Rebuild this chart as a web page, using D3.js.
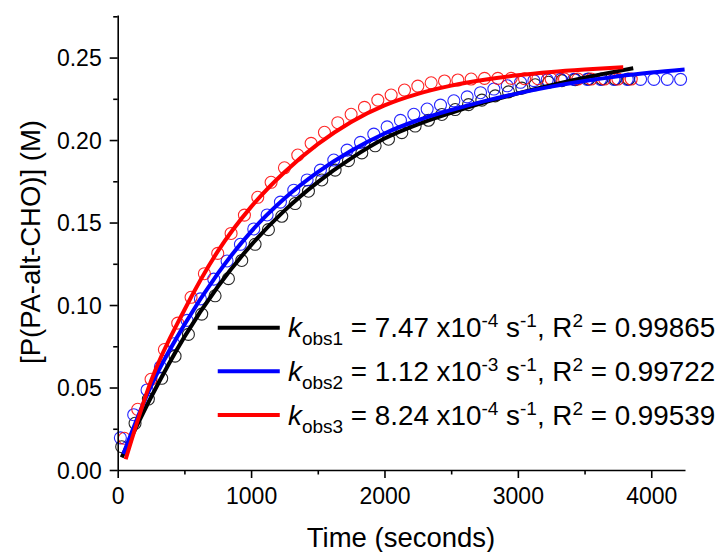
<!DOCTYPE html>
<html>
<head>
<meta charset="utf-8">
<script src="https://cdn.jsdelivr.net/npm/d3@7"></script>
<style>
  html, body { margin: 0; padding: 0; background: #fff; }
  svg { display: block; }
  text { font-family: "Liberation Sans", Arial, sans-serif; fill: #000; }
</style>
</head>
<body>
<svg id="chart" width="723" height="552"></svg>
<script>
// ---------- data ----------
const blackTimes = [30,130,230,330,430,530,630,730,830,930,1030,1130,1230,1330,1430,1530,1630,1730,1830,1930,2030,2130,2230,2330,2430,2530,2630,2730,2830,2930,3030,3130,3230,3330,3430,3530,3630,3730,3830];
const blackValues = [0.0141,0.0283,0.0430,0.0556,0.0690,0.0822,0.0945,0.1056,0.1160,0.1270,0.1368,0.1457,0.1538,0.1615,0.1690,0.1758,0.1818,0.1875,0.1922,0.1965,0.2005,0.2045,0.2085,0.2120,0.2155,0.2185,0.2215,0.2242,0.2268,0.2292,0.2315,0.2335,0.2350,0.2360,0.2366,0.2370,0.2370,0.2370,0.2370];

const blueTimes = [20,120,220,320,420,520,620,720,820,920,1020,1120,1220,1320,1420,1520,1620,1720,1820,1920,2020,2120,2220,2320,2420,2520,2620,2720,2820,2920,3020,3120,3220,3320,3420,3520,3620,3720,3820,3920,4020,4120,4220];
const blueValues = [0.0195,0.0335,0.0485,0.0625,0.0765,0.0907,0.1037,0.1157,0.1267,0.1368,0.1461,0.1546,0.1624,0.1696,0.1758,0.1818,0.1879,0.1939,0.1986,0.2036,0.2080,0.2119,0.2156,0.2188,0.2212,0.2238,0.2262,0.2287,0.2309,0.2329,0.2350,0.2360,0.2365,0.2368,0.2368,0.2368,0.2368,0.2368,0.2368,0.2368,0.2368,0.2368,0.2368];

const redTimes = [50,150,250,350,450,550,650,750,850,950,1050,1150,1250,1350,1450,1550,1650,1750,1850,1950,2050,2150,2250,2350,2450,2550,2650,2750,2850,2950,3050,3150,3250,3350,3450,3550,3650,3750,3850];
const redValues = [0.0192,0.0368,0.0550,0.0730,0.0890,0.1047,0.1190,0.1313,0.1434,0.1545,0.1653,0.1744,0.1832,0.1909,0.1980,0.2047,0.2105,0.2156,0.2198,0.2242,0.2273,0.2303,0.2327,0.2347,0.2358,0.2364,0.2370,0.2374,0.2374,0.2374,0.2372,0.2372,0.2370,0.2370,0.2370,0.2370,0.2370,0.2370,0.2370];

// fitted curves
const blackFitTimes = [30,250,500,750,1000,1250,1500,1750,2000,2250,2500,2750,3000,3250,3500,3750,3865];
const blackFitValues = [0.0077,0.0441,0.0807,0.1111,0.1363,0.1572,0.1745,0.1889,0.2009,0.2095,0.2165,0.2228,0.2283,0.2333,0.2378,0.2418,0.2435];
const blueFitTimes = [42,250,500,750,1000,1250,1500,1750,2000,2250,2500,2750,3000,3250,3500,3750,4000,4250];
const blueFitValues = [0.0097,0.0510,0.0880,0.1190,0.1445,0.1645,0.1805,0.1935,0.2040,0.2120,0.2182,0.2236,0.2283,0.2324,0.2358,0.2386,0.2409,0.2428];
const redFitTimes = [60,250,500,750,1000,1250,1500,1750,2000,2250,2500,2750,3000,3250,3500,3790];
const redFitValues = [0.0065,0.0540,0.0970,0.1325,0.1595,0.1805,0.1975,0.2110,0.2210,0.2280,0.2330,0.2366,0.2393,0.2413,0.2428,0.2442];

const seriesColors = ["#000000", "#0000ff", "#ff0000"];
const legendSubs = ["obs1", "obs2", "obs3"];
const legendMantissa = ["7.47", "1.12", "8.24"];
const legendExponent = ["-4", "-3", "-4"];
const legendR2 = ["0.99865", "0.99722", "0.99539"];

const xTicks = [0, 1000, 2000, 3000, 4000];
const xMinorTicks = [500, 1500, 2500, 3500];
const yTicks = [0, 0.05, 0.10, 0.15, 0.20, 0.25];
const yMinorTicks = [0.025, 0.075, 0.125, 0.175, 0.225, 0.275];
const xTitle = "Time (seconds)";
const yTitle = "[P(PA-alt-CHO)] (M)";

// ---------- chart ----------
const svg = d3.select("#chart");
const x = d3.scaleLinear().domain([0, 4253]).range([117.7, 685]);
const y = d3.scaleLinear().domain([0, 0.2758]).range([470, 15]);

const zip = (a, b) => a.map((t, i) => [t, b[i]]);
const points = [zip(blackTimes, blackValues), zip(blueTimes, blueValues), zip(redTimes, redValues)];
const fits = [zip(blackFitTimes, blackFitValues), zip(blueFitTimes, blueFitValues), zip(redFitTimes, redFitValues)];

// scatter (hollow circles)
points.forEach((pts, i) => {
  svg.append("g").selectAll("circle").data(pts).join("circle")
    .attr("cx", d => x(d[0])).attr("cy", d => y(d[1])).attr("r", 6)
    .attr("fill", "none").attr("stroke", seriesColors[i]).attr("stroke-width", 1.1)
    .attr("stroke-opacity", 0.85);
});

// fitted lines
const line = d3.line().x(d => x(d[0])).y(d => y(d[1])).curve(d3.curveMonotoneX);
fits.forEach((pts, i) => {
  svg.append("path").datum(pts).attr("d", line)
    .attr("fill", "none").attr("stroke", seriesColors[i]).attr("stroke-width", 4);
});

// axes
const xAxis = svg.append("g").attr("transform", "translate(0,470)")
  .call(d3.axisBottom(x).tickValues(xTicks).tickFormat(d3.format("d")).tickSize(8).tickSizeOuter(0));
const xMinor = svg.append("g").attr("transform", "translate(0,470)")
  .call(d3.axisBottom(x).tickValues(xMinorTicks).tickFormat("").tickSize(4.5).tickSizeOuter(0));
const yAxis = svg.append("g").attr("transform", "translate(117.7,0)")
  .call(d3.axisLeft(y).tickValues(yTicks).tickFormat(d3.format(".2f")).tickSize(8).tickSizeOuter(0));
const yMinor = svg.append("g").attr("transform", "translate(117.7,0)")
  .call(d3.axisLeft(y).tickValues(yMinorTicks).tickFormat("").tickSize(4.5).tickSizeOuter(0));

[xAxis, xMinor, yAxis, yMinor].forEach(g => {
  g.selectAll(".domain").attr("stroke", "#000").attr("stroke-width", 1.6);
  g.selectAll(".tick line").attr("stroke", "#000").attr("stroke-width", 1.6);
});
xMinor.select(".domain").remove();
yMinor.select(".domain").remove();
xAxis.selectAll(".tick text").attr("font-size", 23).attr("font-family", "Liberation Sans, Arial, sans-serif").attr("dy", "0.71em").attr("y", 18);
yAxis.selectAll(".tick text").attr("font-size", 23).attr("font-family", "Liberation Sans, Arial, sans-serif").attr("x", -16).attr("dy", "0.35em");

// axis titles
svg.append("text").attr("x", 401).attr("y", 546.5).attr("text-anchor", "middle")
  .attr("font-size", 27.5).text(xTitle);
svg.append("text").attr("transform", "translate(40,242) rotate(-90)").attr("text-anchor", "middle")
  .attr("font-size", 27.5).text(yTitle);

// legend
const legendY = [327.7, 371.3, 415];
legendY.forEach((ly, i) => {
  svg.append("line").attr("x1", x(750)).attr("x2", x(1215)).attr("y1", ly).attr("y2", ly)
    .attr("stroke", seriesColors[i]).attr("stroke-width", 4);
  const t = svg.append("text").attr("x", 288).attr("y", ly + 9.5).attr("font-size", 27.8);
  t.append("tspan").attr("font-style", "italic").text("k");
  t.append("tspan").attr("font-size", 19).attr("dy", 8).text(legendSubs[i]);
  t.append("tspan").attr("dy", -8).text(" = " + legendMantissa[i] + " x10");
  t.append("tspan").attr("font-size", 19).attr("dy", -10).text(legendExponent[i]);
  t.append("tspan").attr("dy", 10).text(" s");
  t.append("tspan").attr("font-size", 19).attr("dy", -10).text("-1");
  t.append("tspan").attr("dy", 10).text(", R");
  t.append("tspan").attr("font-size", 19).attr("dy", -10).text("2");
  t.append("tspan").attr("dy", 10).text(" = " + legendR2[i]);
});
</script>
</body>
</html>
